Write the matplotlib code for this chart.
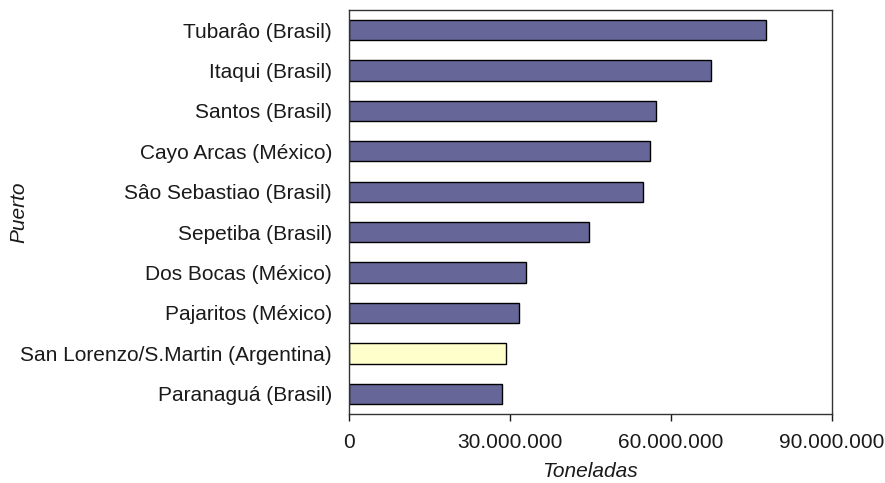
import matplotlib
matplotlib.use("Agg")
import matplotlib.pyplot as plt
from matplotlib.ticker import FuncFormatter

ports = ["Tubarâo (Brasil)", "Itaqui (Brasil)", "Santos (Brasil)", "Cayo Arcas (México)",
         "Sâo Sebastiao (Brasil)", "Sepetiba (Brasil)", "Dos Bocas (México)",
         "Pajaritos (México)", "San Lorenzo/S.Martin (Argentina)", "Paranaguá (Brasil)"]
tons = [77.8e6, 67.5e6, 57.2e6, 56.1e6, 54.8e6, 44.7e6, 33.0e6, 31.7e6, 29.4e6, 28.6e6]
highlight = "San Lorenzo/S.Martin (Argentina)"

plt.rcParams['font.family'] = ['Liberation Sans', 'DejaVu Sans']
FS = 15

fig = plt.figure(figsize=(8.85, 4.83), dpi=100)
ax = fig.add_axes([348.7/885, 1 - 414/483, (831.7-348.7)/885, (414-10)/483])

colors = ["#FFFFCC" if p == highlight else "#666699" for p in ports]
y = list(range(len(ports)))[::-1]
ax.barh(y, tons, height=0.5, color=colors, edgecolor="black", linewidth=1.0)

ax.set_xlim(0, 90e6)
ax.set_ylim(-0.5, len(ports) - 0.5)
ax.set_xticks([0, 30e6, 60e6, 90e6])
ax.xaxis.set_major_formatter(FuncFormatter(lambda v, p: f"{int(v):,}".replace(",", ".")))
ax.set_yticks(y)
ax.set_yticklabels(ports)
ax.tick_params(axis='y', length=0, pad=12, labelsize=FS, colors="#1a1a1a")
ax.tick_params(axis='x', length=5, width=1, pad=9, labelsize=FS, colors="#1a1a1a", direction='out')
for s in ax.spines.values():
    s.set_color("#333333")
    s.set_linewidth(1)

ax.set_xlabel("Toneladas", fontsize=FS, style='italic', color="#1a1a1a")
ax.set_ylabel("Puerto", fontsize=FS, style='italic', color="#1a1a1a")
ax.xaxis.set_label_coords(0.5, -(472 - 414) / 404, transform=ax.transAxes)
ax.xaxis.label.set_va('center')
ax.yaxis.set_label_coords((19 - 348.7) / 483, 0.5)
ax.yaxis.label.set_va('center')

fig.savefig("out.png", dpi=100, facecolor="white")
